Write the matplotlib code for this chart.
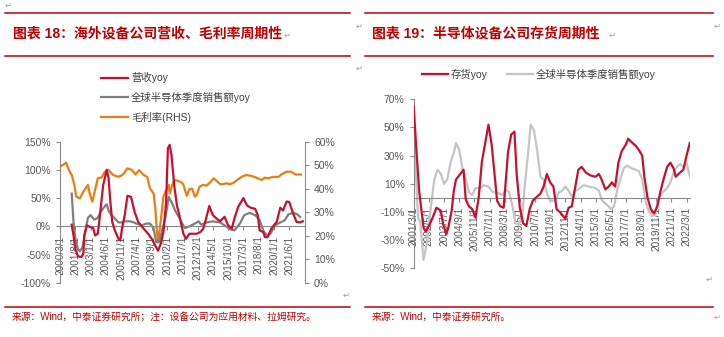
import pandas as pd
import matplotlib.pyplot as plt
from matplotlib.lines import Line2D
from matplotlib.ticker import FuncFormatter

plt.rcParams['font.family'] = ['Liberation Sans', 'Noto Sans CJK SC', 'DejaVu Sans']

# ---------------- 图表18 data ----------------
rev_dates = ['2001-04', '2001-06', '2001-08', '2001-11', '2002-03', '2002-05', '2002-06', '2002-09',
             '2002-12', '2003-04', '2003-06', '2003-09', '2003-11', '2004-03', '2004-07', '2004-09',
             '2004-11', '2005-01', '2005-04', '2005-08', '2005-10', '2005-12', '2006-03', '2006-06',
             '2006-10', '2007-02', '2007-06', '2007-12', '2008-05', '2008-09', '2009-01', '2009-04',
             '2009-07', '2009-10', '2010-01', '2010-03', '2010-05', '2010-07', '2010-10', '2011-01',
             '2011-04', '2011-08', '2011-11', '2012-03', '2012-11', '2013-03', '2013-06', '2013-09',
             '2014-01', '2014-05', '2014-09', '2015-01', '2015-06', '2015-10', '2016-02', '2016-05',
             '2016-09', '2017-03', '2017-07', '2017-11', '2018-04', '2018-07', '2018-09', '2019-01',
             '2019-03', '2019-06', '2019-10', '2020-04', '2020-08', '2020-11', '2021-03', '2021-06',
             '2021-10', '2022-02', '2022-06', '2022-09']
rev_yoy = [3, -16, -40, -53, -54, -48, -16, 2,
           -1, -3, -16, -13, 14, 73, 100, 85,
           43, 8, -7, -22, -25, -4, 20, 54,
           52, 25, 8, -4, -13, -22, -34, -43,
           -31, -10, 43, 138, 144, 126, 73, 37,
           18, -12, -22, -13, -13, -10, -5, 11,
           36, 20, 14, 9, 17, 2, -4, 14,
           34, 50, 37, 33, 31, 20, -7, -10,
           -19, -19, -4, 8, 33, 28, 44, 43,
           24, 8, 7, 9]

semi_dates = ['2001-04', '2001-06', '2001-08', '2001-11', '2002-01', '2002-04', '2002-07', '2002-10',
              '2003-01', '2003-05', '2003-09', '2003-12', '2004-04', '2004-07', '2004-09', '2004-12',
              '2005-04', '2005-08', '2005-12', '2006-03', '2006-09', '2007-01', '2007-04', '2007-10',
              '2008-03', '2008-07', '2008-11', '2009-02', '2009-05', '2009-08', '2009-12', '2010-04',
              '2010-07', '2010-11', '2011-03', '2011-08', '2011-10', '2012-03', '2012-09', '2013-01',
              '2013-04', '2013-10', '2014-05', '2015-01', '2015-06', '2015-12', '2016-05', '2016-11',
              '2017-04', '2017-10', '2018-04', '2018-09', '2019-01', '2019-05', '2019-09', '2020-02',
              '2020-07', '2021-01', '2021-05', '2021-10', '2022-02', '2022-06']
semi_yoy = [58, 8, -22, -40, -44, -37, -10, 15,
            20, 12, 15, 25, 34, 39, 28, 20,
            14, 7, 7, 9, 9, 7, 5, 2,
            5, 5, -3, -28, -28, -10, 14, 52,
            43, 28, 17, 2, -3, 0, 5, 9,
            3, 7, 9, 7, 2, -5, -7, 5,
            20, 24, 20, 11, -7, -16, -13, 2,
            6, 11, 21, 24, 22, 17]

gm_dates = ['2000-03', '2000-10', '2000-12', '2001-04', '2001-07', '2001-09', '2002-01', '2002-05',
            '2002-10', '2002-12', '2003-03', '2003-06', '2003-09', '2004-01', '2004-05', '2004-09',
            '2005-02', '2005-08', '2006-01', '2006-06', '2006-11', '2007-03', '2007-07', '2007-12',
            '2008-04', '2008-07', '2008-11', '2009-01', '2009-02', '2009-04', '2009-07', '2009-10',
            '2010-01', '2010-04', '2010-05', '2010-08', '2010-10', '2011-02', '2011-06', '2011-08',
            '2011-12', '2012-03', '2012-06', '2012-09', '2012-11', '2013-02', '2013-06', '2013-10',
            '2014-02', '2014-06', '2014-10', '2015-01', '2015-04', '2015-08', '2015-12', '2016-04',
            '2016-08', '2017-01', '2017-06', '2017-12', '2018-05', '2018-11', '2019-03', '2019-06',
            '2019-12', '2020-06', '2020-09', '2021-03', '2021-08', '2022-01', '2022-07']
gross_margin = [49.3, 51, 48.6, 45.8, 41.6, 36.6, 35.9, 38.7,
                41.6, 38, 34.5, 39.4, 44.4, 44.7, 47.2, 47.9,
                45.8, 45, 46, 48.6, 47.9, 46, 47.9, 45.8,
                45, 40.2, 38, 31.7, 25.3, 17.5, 26, 36.6,
                39.4, 41.6, 38, 41.6, 43.7, 43.3, 42.7, 41.9,
                37, 39.9, 39.9, 36.6, 37.3, 40.8, 41.6, 41.3,
                42.7, 44.4, 43, 41.9, 41.9, 42.3, 41.9, 42.5,
                43.7, 45, 45.8, 45.4, 44.7, 43.7, 44.7, 44.4,
                45, 45, 46, 47.2, 47.2, 46, 46]

left_ticks = ['2000/3/1', '2001/8/1', '2003/1/1', '2004/6/1', '2005/11/1', '2007/4/1', '2008/9/1',
              '2010/2/1', '2011/7/1', '2012/12/1', '2014/5/1', '2015/10/1', '2017/3/1', '2018/8/1',
              '2020/1/1', '2021/6/1']

# ---------------- 图表19 data ----------------
inv_dates = ['2001-03', '2001-05', '2001-08', '2001-12', '2002-02', '2002-05', '2002-08', '2002-12',
             '2003-04', '2003-06', '2003-09', '2003-11', '2004-02', '2004-04', '2004-06', '2004-10',
             '2005-01', '2005-03', '2005-06', '2005-09', '2005-12', '2006-03', '2006-06', '2006-09',
             '2006-12', '2007-03', '2007-06', '2007-08', '2007-11', '2008-02', '2008-04', '2008-06',
             '2008-09', '2008-12', '2009-02', '2009-05', '2009-08', '2009-11', '2010-02', '2010-05',
             '2010-09', '2010-12', '2011-03', '2011-06', '2011-09', '2011-12', '2012-03', '2012-07',
             '2012-11', '2013-02', '2013-05', '2013-08', '2013-11', '2014-02', '2014-06', '2014-10',
             '2015-03', '2015-06', '2015-08', '2015-12', '2016-03', '2016-06', '2016-09', '2016-12',
             '2017-03', '2017-07', '2017-09', '2018-01', '2018-04', '2018-07', '2018-10', '2018-12',
             '2019-03', '2019-06', '2019-09', '2019-12', '2020-03', '2020-06', '2020-09', '2020-12',
             '2021-03', '2021-05', '2021-09', '2021-12', '2022-03', '2022-06']
inv_yoy = [65, 40, 5, -21, -24, -20, -15, -7,
           -9, -18, -26, -21, -9, 5, 13, 17,
           20, -1, -6, -8, -14, 0, 26, 39,
           52, 38, 14, -2, -6, -7, 12, 32,
           45, 47, 17, -7, -18, -20, -8, -2,
           1, 3, 8, 17, 11, 8, -8, -11,
           -15, -7, -6, 7, 20, 22, 18, 16,
           15, 17, 14, 6, 8, 11, 8, 25,
           33, 38, 42, 39, 37, 34, 30, 15,
           0, -8, -11, -6, 5, 14, 22, 25,
           21, 15, 18, 20, 30, 39]

semi2_dates = ['2001-03', '2001-05', '2001-07', '2001-09', '2001-12', '2002-03', '2002-06', '2002-10',
               '2003-01', '2003-04', '2003-07', '2003-10', '2004-01', '2004-04', '2004-06', '2004-09',
               '2004-12', '2005-03', '2005-06', '2005-09', '2005-12', '2006-04', '2006-08', '2006-12',
               '2007-04', '2007-07', '2008-01', '2008-04', '2008-07', '2008-10', '2009-01', '2009-04',
               '2009-07', '2009-10', '2010-01', '2010-03', '2010-06', '2010-09', '2010-12', '2011-03',
               '2011-06', '2011-09', '2012-02', '2012-05', '2012-08', '2012-11', '2013-02', '2013-05',
               '2013-08', '2013-11', '2014-04', '2014-09', '2015-03', '2015-06', '2015-09', '2015-12',
               '2016-03', '2016-05', '2016-08', '2016-11', '2017-02', '2017-05', '2017-08', '2017-12',
               '2018-04', '2018-07', '2018-10', '2019-01', '2019-04', '2019-07', '2019-10', '2020-01',
               '2020-05', '2020-09', '2020-12', '2021-03', '2021-06', '2021-09', '2021-12', '2022-03',
               '2022-06']
semi2_yoy = [58, 17, -14, -17, -44, -33, -12, 13,
             20, 17, 10, 13, 25, 32, 39, 34,
             21, 14, 4, 2, 7, 7, 9, 8,
             4, 4, 2, 6, 4, -5, -18, -19,
             -14, 12, 35, 52, 48, 34, 15, 13,
             3, -2, -2, 4, 5, 8, 5, 1,
             5, 6, 9, 8, 7, 5, -2, -4,
             -6, -8, -6, 6, 14, 21, 23, 21,
             20, 19, 13, -2, -9, -13, -12, 0,
             4, 7, 11, 18, 22, 24, 22, 25,
             15]

right_ticks = ['2001/3/1', '2002/5/1', '2003/7/1', '2004/9/1', '2005/11/1', '2007/1/1', '2008/3/1',
               '2009/5/1', '2010/7/1', '2011/9/1', '2012/11/1', '2014/1/1', '2015/3/1', '2016/5/1',
               '2017/7/1', '2018/9/1', '2019/11/1', '2021/1/1', '2022/3/1']

# ---------------- layout ----------------
W, H = 724, 337
RED = '#C00000'
LINE_RED = '#C8102E'
AX_GRAY = '#898989'
TXT_GRAY = '#595959'
pct = FuncFormatter(lambda v, p: '{:.0f}%'.format(v))

fig = plt.figure(figsize=(W / 100, H / 100), dpi=100)


def fx(x):
    return x / W


def fy(y):
    return 1 - y / H


def hline(x0, x1, y):
    fig.add_artist(Line2D([fx(x0), fx(x1)], [fy(y), fy(y)], color=RED, lw=1.1,
                          transform=fig.transFigure))


def style_axis(ax, ticks):
    for s in ['top', 'right']:
        ax.spines[s].set_visible(False)
    ax.spines['left'].set_color(AX_GRAY)
    ax.spines['bottom'].set_color(AX_GRAY)
    ax.spines['bottom'].set_position(('data', 0))
    ax.yaxis.set_major_formatter(pct)
    ax.tick_params(axis='y', colors=AX_GRAY, labelcolor=TXT_GRAY, labelsize=7.5, length=3)
    ax.tick_params(axis='x', colors=AX_GRAY, labelcolor=TXT_GRAY, labelsize=7.2, length=3)
    ax.set_xticks(pd.to_datetime(ticks, format='%Y/%m/%d'))
    ax.set_xticklabels(ticks, rotation=90)
    ax.patch.set_alpha(0)


# header / footer rules and titles
for x0, x1 in [(5, 350), (365, 713)]:
    hline(x0, x1, 13)
    hline(x0, x1, 56)
    hline(x0, x1, 307)

fig.text(fx(13), fy(34), '图表 18：海外设备公司营收、毛利率周期性', color=RED, fontsize=10,
         fontweight='bold', va='center', ha='left')
fig.text(fx(372), fy(34), '图表 19：半导体设备公司存货周期性', color=RED, fontsize=10,
         fontweight='bold', va='center', ha='left')
fig.text(fx(12), fy(317), '来源：Wind，中泰证券研究所；注：设备公司为应用材料、拉姆研究。', color=RED,
         fontsize=7, va='center', ha='left')
fig.text(fx(372), fy(317), '来源：Wind，中泰证券研究所。', color=RED, fontsize=7, va='center', ha='left')

# ---- left chart ----
ax1 = fig.add_axes([fx(60), fy(283), (305 - 60) / W, (283 - 141.5) / H])
ax2 = ax1.twinx()
l1, = ax1.plot(pd.to_datetime(rev_dates), rev_yoy, color=LINE_RED, lw=1.6, zorder=3)
l2, = ax1.plot(pd.to_datetime(semi_dates), semi_yoy, color='#7F7F7F', lw=1.6, zorder=2)
l3, = ax2.plot(pd.to_datetime(gm_dates), gross_margin, color='#ED7D10', lw=1.6)
ax1.set_ylim(-100, 150)
ax1.set_yticks(range(-100, 151, 50))
ax2.set_ylim(0, 60)
ax2.set_yticks(range(0, 61, 10))
ax2.yaxis.set_major_formatter(pct)
style_axis(ax1, left_ticks)
ax1.set_xlim(pd.Timestamp('2000-03-01'), pd.Timestamp('2022-11-15'))
for s in ['top', 'left', 'bottom']:
    ax2.spines[s].set_visible(False)
ax2.spines['right'].set_color(AX_GRAY)
ax2.tick_params(axis='y', colors=AX_GRAY, labelcolor=TXT_GRAY, labelsize=7.5, length=3)
ax1.set_zorder(2)
ax2.set_zorder(1)

fig.legend([l1, l2, l3], ['营收yoy', '全球半导体季度销售额yoy', '毛利率(RHS)'],
           loc='upper left', bbox_to_anchor=(fx(101), fy(72)), frameon=False, fontsize=7.5,
           handlelength=2.6, handletextpad=0.3, labelspacing=0.85, borderpad=0, borderaxespad=0,
           labelcolor='#404040')

# ---- right chart ----
ax3 = fig.add_axes([fx(413.7), fy(268.3), (690.5 - 413.7) / W, (268.3 - 99.3) / H])
r1, = ax3.plot(pd.to_datetime(inv_dates), inv_yoy, color=LINE_RED, lw=1.6, zorder=3)
r2, = ax3.plot(pd.to_datetime(semi2_dates), semi2_yoy, color='#C4C4C4', lw=1.6, zorder=2)
ax3.set_ylim(-50, 70)
ax3.set_yticks(range(-50, 71, 20))
style_axis(ax3, right_ticks)
ax3.set_xlim(pd.Timestamp('2001-03-01'), pd.Timestamp('2022-06-20'))

fig.legend([r1, r2], ['存货yoy', '全球半导体季度销售额yoy'], loc='upper left',
           bbox_to_anchor=(fx(422), fy(69)), ncol=2, frameon=False, fontsize=7.5,
           handlelength=2.5, handletextpad=0.3, columnspacing=1.8, borderpad=0, borderaxespad=0,
           labelcolor='#404040')

# word paragraph marks
for x, y in [(8, 5), (287, 35), (359, 68), (346, 295), (612, 35), (717, 26), (709, 279), (717, 317),
             (359, 26)]:
    fig.text(fx(x), fy(y), '↵', color='#A0A0A0', fontsize=6, family='DejaVu Sans',
             ha='center', va='center')

fig.savefig('out.png', dpi=100)
